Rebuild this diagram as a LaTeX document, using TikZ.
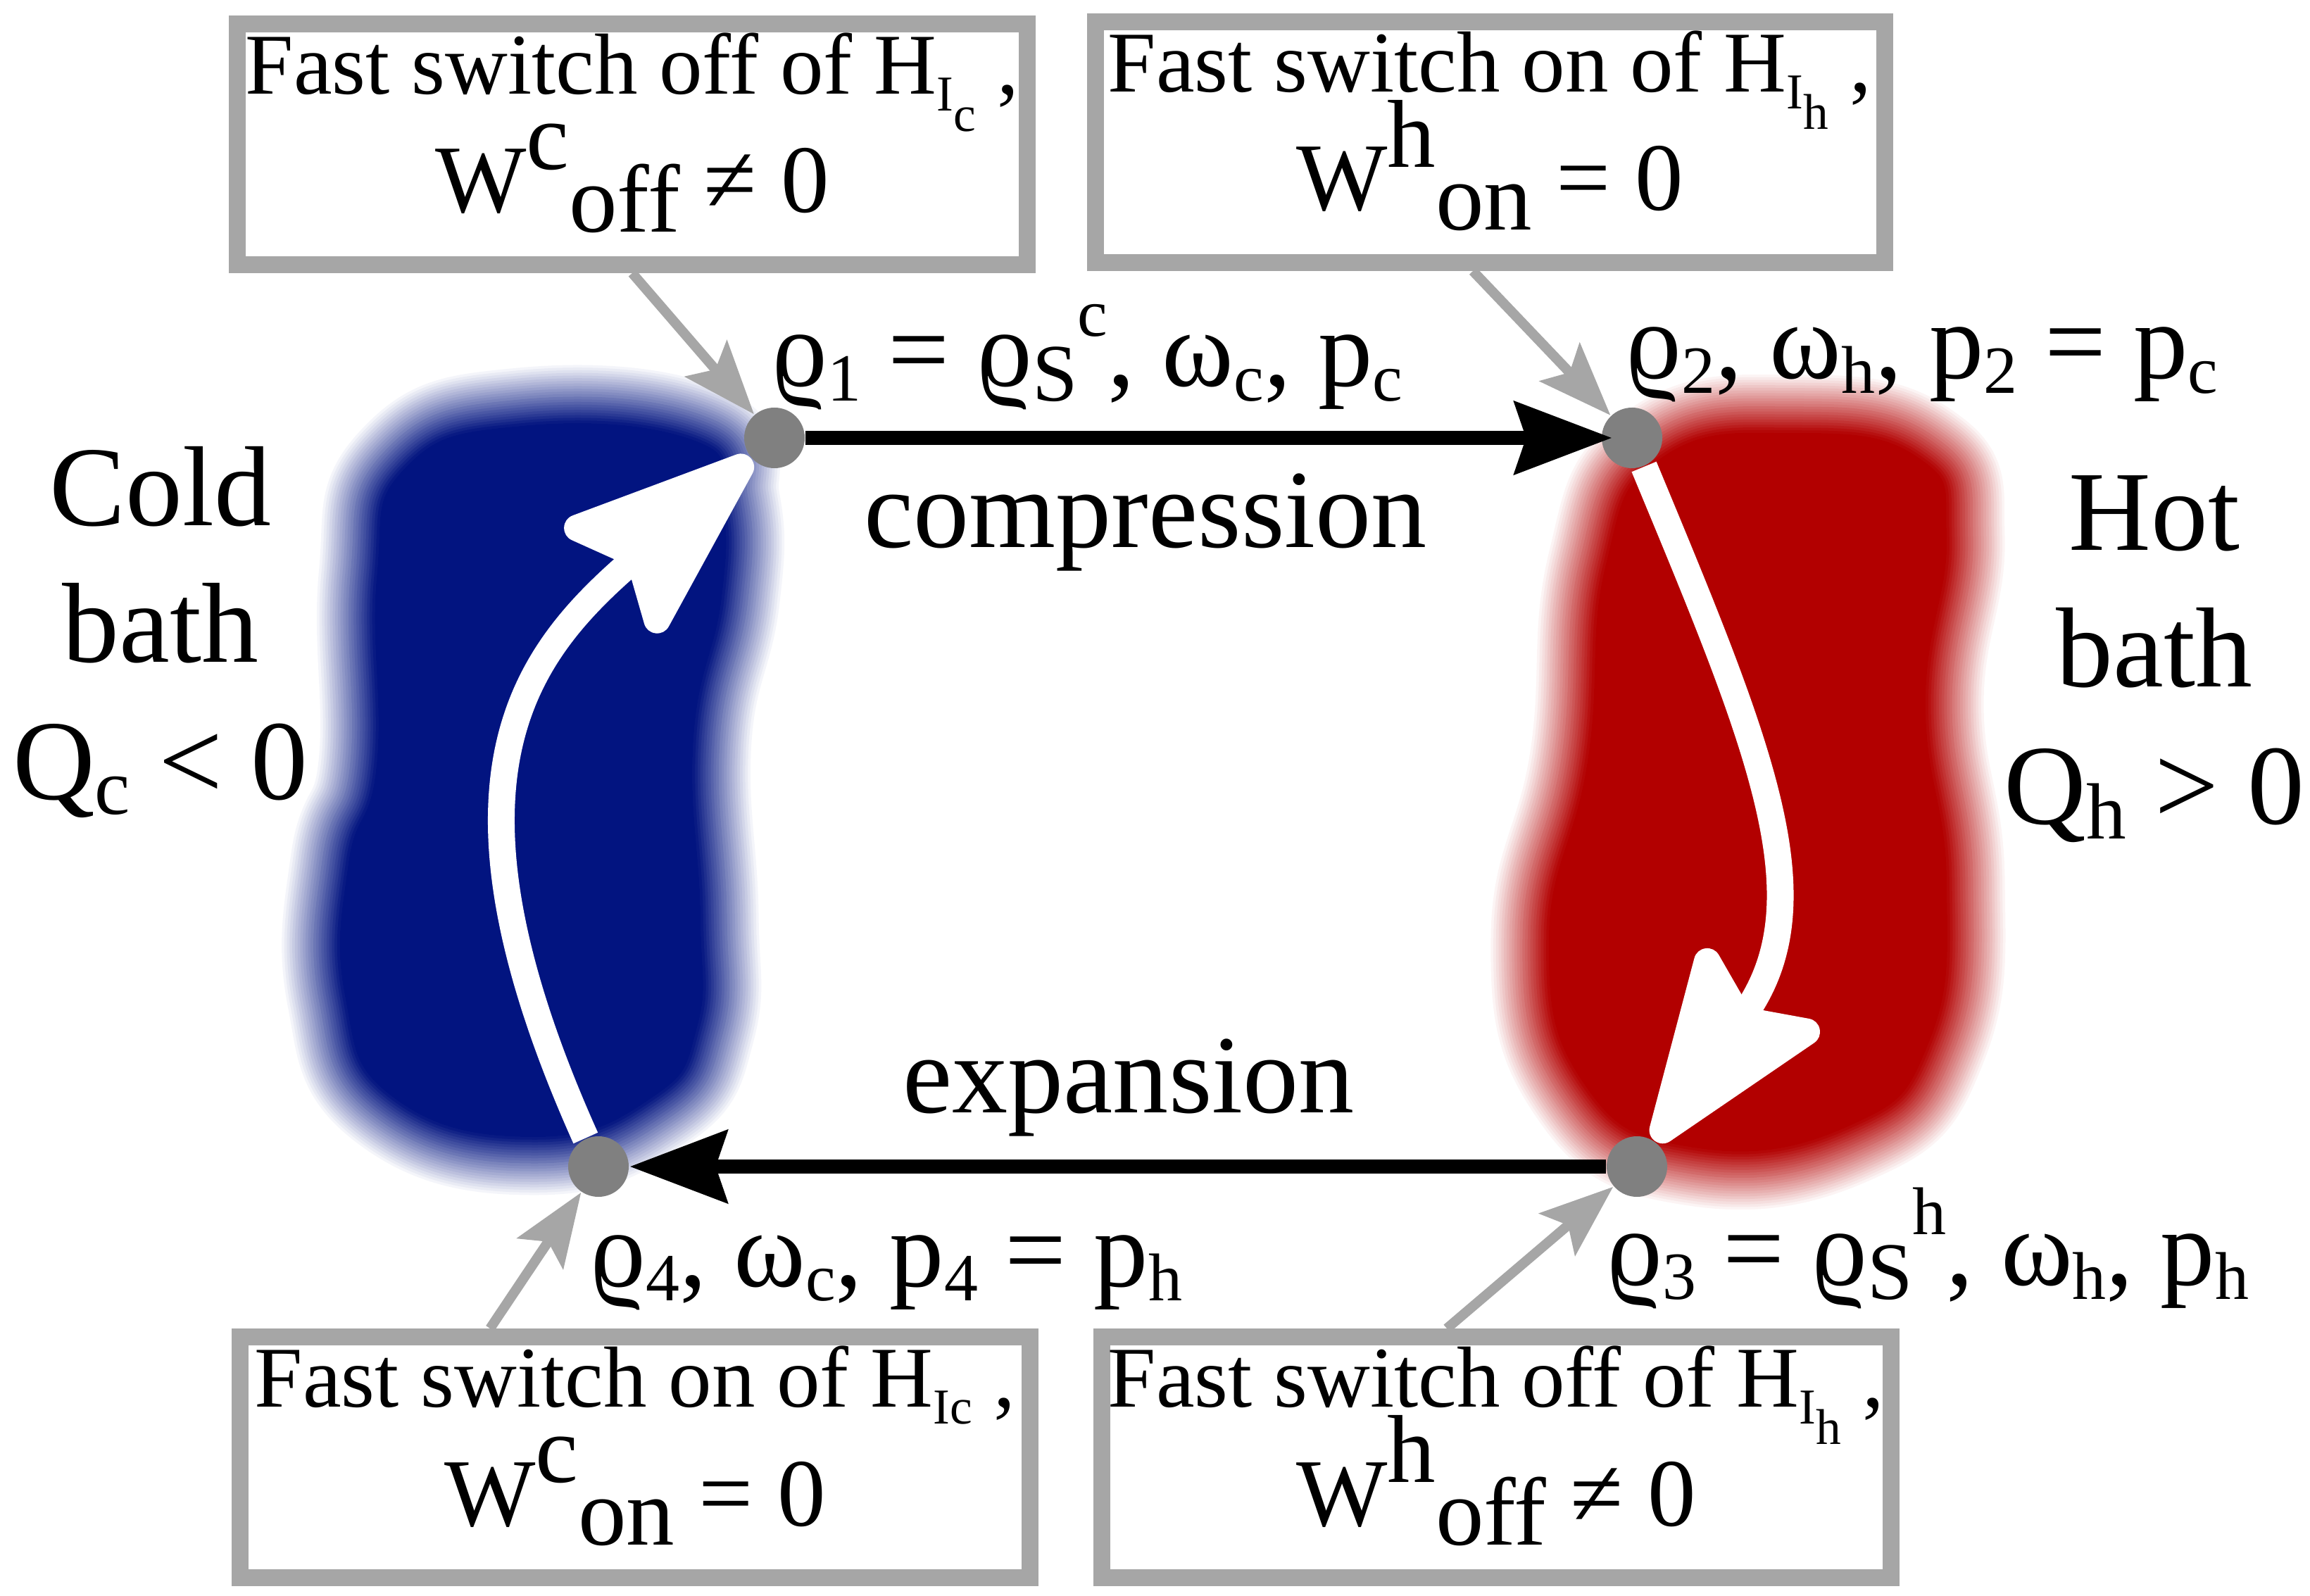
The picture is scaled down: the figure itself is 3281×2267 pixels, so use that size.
\documentclass[tikz,border=0pt]{standalone}
\usepackage{fontspec}
\setmainfont{Liberation Serif}
\usepackage{graphicx}
\usetikzlibrary{arrows.meta, positioning}

\definecolor{coldblue}{RGB}{2,20,128}
\definecolor{hotred}{RGB}{178,0,0}
\definecolor{boxgray}{RGB}{166,166,166}
\definecolor{dotgray}{RGB}{128,128,128}

% sub- and superscripts as the picture sets them
\newcommand{\lsub}[2][0.62]{\raisebox{-0.13em}{\scalebox{#1}{#2}}}
\newcommand{\lsup}[2][0.62]{\raisebox{0.46em}{\scalebox{#1}{#2}}}
\newcommand{\hsub}[1]{\smash{\raisebox{-0.2em}{\scalebox{0.58}{#1}}}}
\newcommand{\wsup}[1]{\smash{\raisebox{0.45em}{#1}}}
\newcommand{\wsub}[1]{\smash{\raisebox{-0.2em}{#1}}}

% bath outlines
\newcommand{\coldblob}{plot[smooth cycle, tension=0.8] coordinates {(740,605) (985,625) (1025,710) (1025,850) (985,1050) (995,1300) (990,1460) (925,1560) (760,1615) (560,1560) (490,1415) (495,1225) (535,1085) (535,820) (575,665)}}
\newcommand{\hotblob}{plot[smooth cycle, tension=0.8] coordinates {(2550,615) (2725,650) (2765,765) (2735,1000) (2765,1250) (2740,1480) (2625,1600) (2405,1630) (2250,1540) (2200,1330) (2255,1080) (2280,805) (2360,650)}}

\begin{document}
\begin{tikzpicture}[
  x=0.05mm, y=-0.05mm,
  switchbox/.style={
    draw=boxgray, line width=0.12cm, fill=white,
    minimum width=5.605cm, minimum height=1.71cm, inner sep=0pt,
    align=center, font=\fontsize{17.5}{24}\selectfont,
    text height=35.6pt, text depth=8pt
  },
  state/.style={circle, fill=dotgray, minimum size=0.43cm, inner sep=0pt},
  lbl/.style={inner sep=0pt, font=\fontsize{22}{27}\selectfont},
  phase/.style={inner sep=0pt, font=\fontsize{22.5}{27}\selectfont},
  bath/.style={inner sep=0pt, align=center, font=\fontsize{23}{27.7}\selectfont,
    text height=60pt, text depth=4.6pt},
  cycarrow/.style={-{Stealth[length=0.69cm, width=0.51cm, inset=0.08cm]}, line width=0.1cm},
  flow/.style={-{Stealth[length=1.6cm, width=1.17cm, inset=0.26cm, round]}, white, line width=0.19cm},
  pointer/.style={-{Stealth[length=0.52cm, width=0.39cm, inset=0.1cm]}, boxgray, line width=0.07cm}
]
\useasboundingbox (0,0) rectangle (3281,2267);

% Baths
\fill[coldblue] \coldblob;
\fill[hotred] \hotblob;
\foreach \j in {1,...,22}{
  \pgfmathsetmacro\op{1/(\j+0.5)}
  \pgfmathsetmacro\lw{\j*0.0375}
  \draw[coldblue, opacity=\op, line width=\lw cm] \coldblob;
  \draw[hotred, opacity=\op, line width=\lw cm] \hotblob;
}

\node[bath] (cold) at (228,941) {Cold\\bath\\Q\lsub[0.7]{c} < 0};
\node[bath] (hot) at (3060,976) {Hot\\bath\\Q\lsub[0.7]{h} > 0};

% Boxes
\node[switchbox] (tlbox) at (898,205) {Fast switch off of H\hsub{I\raisebox{-0.4em}{c}} ,\\
  {\fontsize{19.5}{24}\selectfont W\wsup{c}\wsub{off} ≠ 0}};
\node[switchbox] (trbox) at (2116,202) {Fast switch on of H\hsub{I\raisebox{-0.4em}{h}} ,\\
  {\fontsize{19.5}{24}\selectfont W\wsup{h}\wsub{on} = 0}};
\node[switchbox] (blbox) at (902,2070) {Fast switch on of H\hsub{Ic} ,\\
  {\fontsize{19.5}{24}\selectfont W\wsup{c}\wsub{on} = 0}};
\node[switchbox] (brbox) at (2125,2070) {Fast switch off of H\hsub{I\raisebox{-0.4em}{h}} ,\\
  {\fontsize{19.5}{24}\selectfont W\wsup{h}\wsub{off} ≠ 0}};

% States
\node[state] (p1) at (1100,622) {};
\node[state] (p2) at (2318,622) {};
\node[state] (p3) at (2325,1657) {};
\node[state] (p4) at (850,1657) {};

\node[lbl, anchor=base west, xshift=-0.025cm, yshift=0.365cm] (l1) at (p1.center)
  {ϱ\lsub{1} = ϱ\lsub[0.75]{S}\lsup{c}, ω\lsub{c}, p\lsub{c}};
\node[lbl, anchor=base west, xshift=-0.05cm, yshift=0.42cm] (l2) at (p2.center)
  {ϱ\lsub{2}, ω\lsub{h}, p\lsub{2} = p\lsub{c}};
\node[lbl, anchor=base west, xshift=-0.22cm, yshift=-0.84cm] (l3) at (p3.center)
  {ϱ\lsub{3} = ϱ\lsub[0.75]{S}\lsup{h}, ω\lsub{h}, p\lsub{h}};
\node[lbl, anchor=base west, xshift=-0.065cm, yshift=-0.85cm] (l4) at (p4.center)
  {ϱ\lsub{4}, ω\lsub{c}, p\lsub{4} = p\lsub{h}};

\node[phase, anchor=base] (comp) at (1627,778) {compression};
\node[phase, anchor=base] (expa) at (1603,1580) {expansion};

% Arrows
\draw[pointer] (tlbox.south) -- (p1);
\draw[pointer] ([xshift=-0.12cm]trbox.south) -- (p2);
\draw[pointer] ([xshift=-1.03cm]blbox.north) -- (p4);
\draw[pointer] ([xshift=-0.35cm]brbox.north) -- (p3);
\draw[cycarrow, shorten >=-0.08cm] (p1) -- (p2);
\draw[cycarrow] (p3) -- (p4);
\draw[flow] (p4) .. controls (600,1100) and (750,925) .. (p1);
\draw[flow] (p2) .. controls (2500,1060) and (2592,1279) .. (p3);

\end{tikzpicture}
\end{document}
